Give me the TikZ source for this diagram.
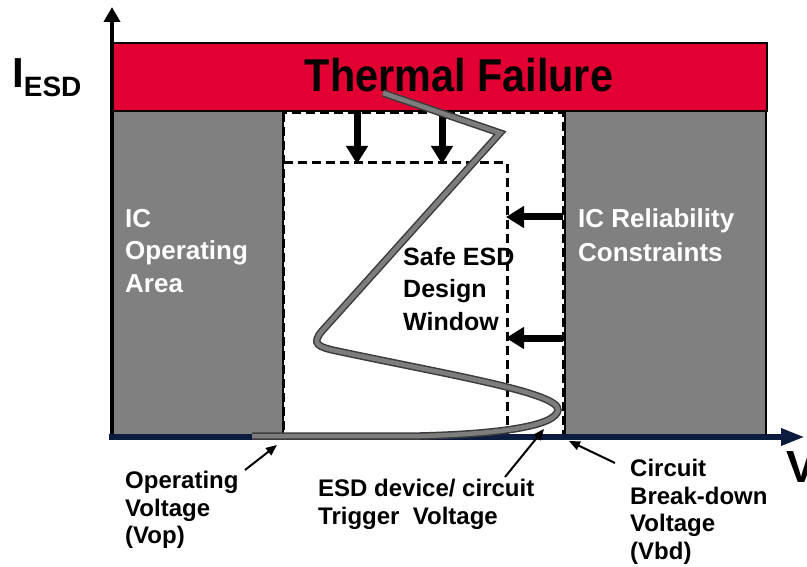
\documentclass[tikz,border=0pt]{standalone}
\usepackage{fontspec}
\setmainfont{Liberation Sans}
\usetikzlibrary{arrows.meta}
\definecolor{failred}{RGB}{226,0,50}
\definecolor{areagray}{RGB}{128,128,128}
\definecolor{axisnavy}{RGB}{12,28,62}
\definecolor{curvefill}{RGB}{125,125,125}
\definecolor{curveedge}{RGB}{60,60,60}
\begin{document}
\begin{tikzpicture}[x=1pt,y=-1pt,
  areabox/.style={fill=areagray,draw=black,line width=1.5pt},
  failbox/.style={fill=failred,draw=black,line width=1.5pt},
  dashline/.style={draw=black,line width=3pt,dash pattern=on 9pt off 5pt},
  blockarrow/.style={line width=7pt,-{Triangle[width=21pt,length=18pt]}},
  pointer/.style={line width=2pt,-{Triangle[width=9pt,length=11pt]}},
  esdcurve/.style={double=curvefill,double distance=4.5pt,line width=1.5pt,draw=curveedge,line join=miter},
  lbl/.style={inner sep=0pt,anchor=north west,align=left,font=\bfseries\fontsize{24}{27.5}\selectfont},
  whitelbl/.style={inner sep=0pt,anchor=north west,align=left,text=white,font=\bfseries\fontsize{26}{32.5}\selectfont}
]
\useasboundingbox (0,0) rectangle (807,567);
% grey areas
\draw[areabox] (112,111) rectangle (283,437);
\draw[areabox] (565,111) rectangle (766,437);
% dashed windows
\draw[dashline] (283,113) rectangle (563,437);
\draw[dashline] (284,163) -- (507,163) -- (507,437);
% coordinates for block arrows
\coordinate (dA1) at (357,112);
\coordinate (dA2) at (357,164);
\coordinate (dB1) at (442,112);
\coordinate (dB2) at (442,164);
\coordinate (lA1) at (563,217);
\coordinate (lA2) at (506,217);
\coordinate (lB1) at (563,338);
\coordinate (lB2) at (506,338);
\draw[blockarrow] (dA1) -- (dA2);
\draw[blockarrow] (dB1) -- (dB2);
\draw[blockarrow] (lA1) -- (lA2);
\draw[blockarrow] (lB1) -- (lB2);
% thermal failure bar
\draw[failbox] (112,43) rectangle (767,111);
\node[inner sep=0pt,anchor=base,xscale=0.9,font=\bfseries\fontsize{46}{46}\selectfont] (tf) at (459,92) {Thermal Failure};
% axes
\coordinate (origin) at (112,440);
\coordinate (ytop) at (112,7);
\coordinate (xorigin) at (109,437);
\coordinate (xend) at (805,437);
\draw[line width=4pt,-{Triangle[width=16pt,length=15pt]}] (origin) -- (ytop);
\draw[axisnavy,line width=6pt,-{Triangle[width=16pt,length=24pt]}] (xorigin) -- (xend);
% I-V curve
\draw[esdcurve] (383,93) -- (500,133) -- (322,331)
  .. controls (311,344) and (318,347) .. (337,351)
  .. controls (450,375) and (560,393) .. (558,410)
  .. controls (556,426) and (500,434) .. (420,436) -- (252,436);
% labels
\node[inner sep=0pt,anchor=base west,font=\bfseries\fontsize{42}{42}\selectfont] (iesd) at (12,88) {I\raisebox{-9pt}{\fontsize{28}{28}\selectfont ESD}};
\node[inner sep=0pt,anchor=base west,font=\bfseries\fontsize{45}{45}\selectfont] (vlab) at (786,482) {V};
\node[whitelbl] (opArea) at (125,209) {IC\\Operating\\Area};
\node[whitelbl,font=\bfseries\fontsize{26}{34}\selectfont] (relArea) at (578,208) {IC Reliability\\Constraints};
\node[lbl,font=\bfseries\fontsize{25}{32.5}\selectfont] (safe) at (403,247) {Safe ESD\\Design\\Window};
\node[lbl] (vop) at (125,471) {Operating\\Voltage\\(Vop)};
\node[lbl] (trig) at (318,479) {ESD device/ circuit\\Trigger\ \ Voltage};
\node[lbl] (vbd) at (630,459) {Circuit\\Break-down\\Voltage\\(Vbd)};
% pointers
\coordinate (vopTail) at (245,470);
\coordinate (vopTip) at (277,445);
\coordinate (trigTail) at (505,477);
\coordinate (trigTip) at (544,429);
\coordinate (vbdTail) at (615,463);
\coordinate (vbdTip) at (569,441);
\draw[pointer] (vopTail) -- (vopTip);
\draw[pointer] (trigTail) -- (trigTip);
\draw[pointer] (vbdTail) -- (vbdTip);
\end{tikzpicture}
\end{document}
